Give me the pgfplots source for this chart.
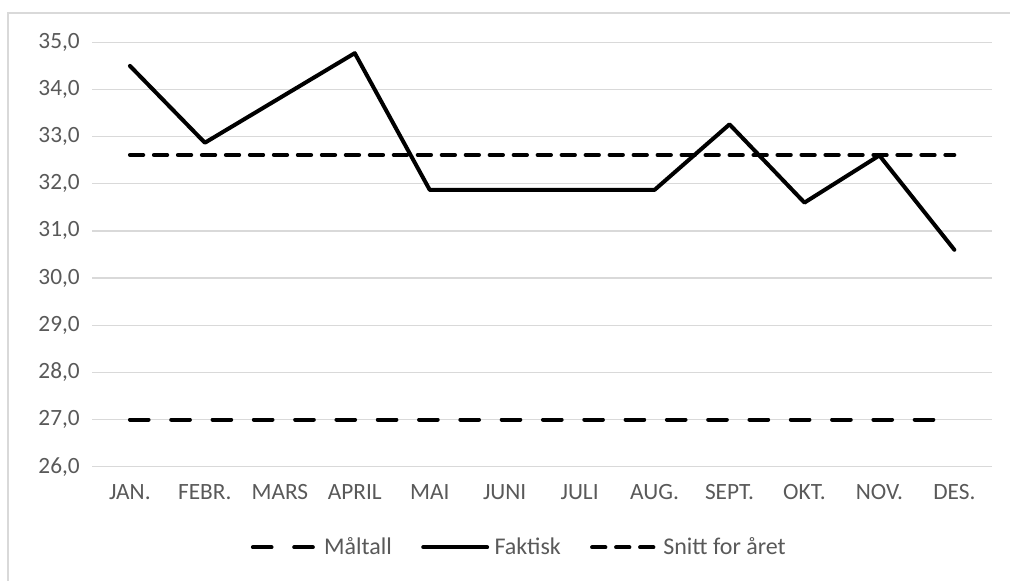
\documentclass[border=0pt]{standalone}
\usepackage{pgfplots}
\pgfplotsset{compat=1.18}
\usepackage{fontspec}
\setmainfont{Carlito}
\definecolor{txt}{HTML}{595959}
\definecolor{gridc}{HTML}{D9D9D9}
\begin{document}
\begin{tikzpicture}
\begin{axis}[
  at={(0,0)}, anchor=south west,
  scale only axis, width=675pt, height=318.5pt,
  xmin=-0.5, xmax=11.5, ymin=26, ymax=35,
  xtick={0,...,11},
  xticklabels={JAN.,FEBR.,MARS,APRIL,MAI,JUNI,JULI,AUG.,SEPT.,OKT.,NOV.,DES.},
  ytick={26,...,35},
  yticklabel={\pgfmathprintnumber[fixed,fixed zerofill,precision=1,use comma]{\tick}},
  /pgf/number format/assume math mode=true,
  xmajorgrids=false, ymajorgrids=true,
  major grid style={draw=gridc, line width=0.9pt},
  axis line style={draw=none},
  major tick length=0pt,
  tick label style={font=\fontsize{17.5}{20}\selectfont, text=txt},
  xticklabel style={yshift=-10pt},
  yticklabel style={xshift=-6pt},
  legend style={at={(0.475,-0.19)}, anchor=center, draw=none, legend columns=3,
    font=\fontsize{18}{21}\selectfont, text=txt,
    /tikz/every odd column/.append style={column sep=2pt},
    /tikz/every even column/.append style={column sep=20pt}},
  legend image code/.code={\draw[#1, line width=3pt] (0pt,0pt) -- (48pt,0pt);},
]
\addplot[black, line width=3pt, line cap=round, dash pattern=on 14pt off 17pt] coordinates {
(0,27) (1,27) (2,27) (3,27) (4,27) (5,27) (6,27) (7,27) (8,27) (9,27) (10,27) (11,27)};
\addlegendentry{Måltall}
\addplot[black, line width=3pt, line join=round, line cap=round] coordinates {
(0,34.5) (1,32.87) (2,33.82) (3,34.77) (4,31.87) (5,31.87) (6,31.87) (7,31.87) (8,33.26) (9,31.6) (10,32.6) (11,30.6)};
\addlegendentry{Faktisk}
\addplot[black, line width=3pt, line cap=round, dash pattern=on 10pt off 8pt] coordinates {
(0,32.61) (1,32.61) (2,32.61) (3,32.61) (4,32.61) (5,32.61) (6,32.61) (7,32.61) (8,32.61) (9,32.61) (10,32.61) (11,32.61)};
\addlegendentry{Snitt for året}
\end{axis}
\draw[gridc, line width=1pt] (-63.4pt,-85.5pt) -- (-63.4pt,340.5pt) -- (688.9pt,340.5pt);
\useasboundingbox (-69.4pt,-85.5pt) rectangle (688.9pt,350.25pt);
\end{tikzpicture}
\end{document}
